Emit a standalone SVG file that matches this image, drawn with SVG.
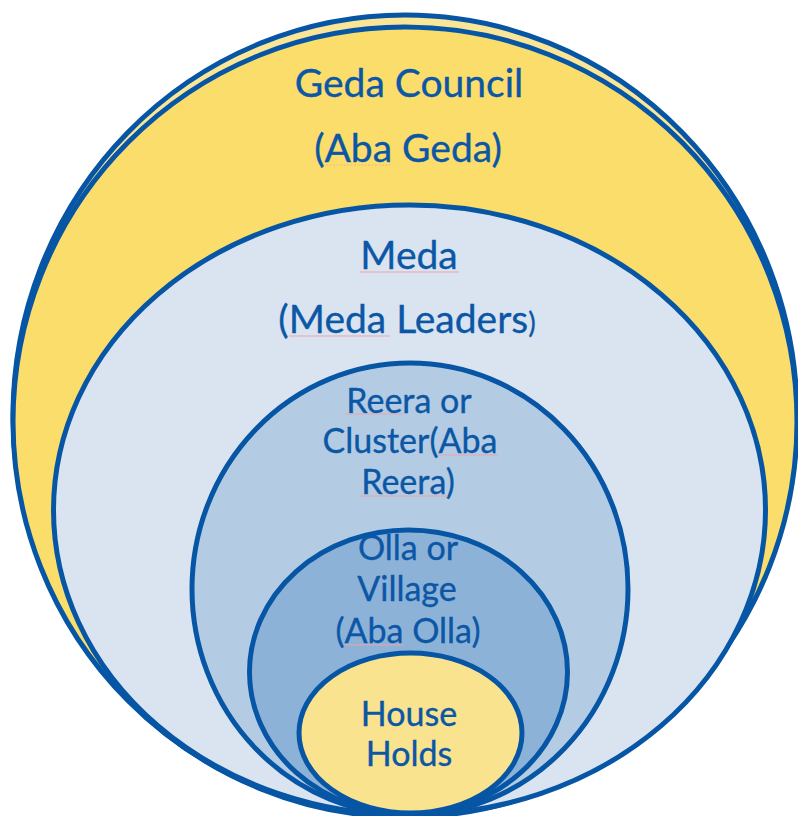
<svg xmlns="http://www.w3.org/2000/svg" width="798" height="816" viewBox="0 0 798 816">
  <style>
    .ring { stroke: #0656A5; stroke-width: 5; }
    .lbl { font-family: Lato, "Open Sans", "Liberation Sans", sans-serif; fill: #0B57A6; text-anchor: middle; stroke: #0B57A6; stroke-width: 0.35; }
    .big { font-size: 39px; }
    .small { font-size: 34px; }
    .spell { stroke: #E9A3AC; stroke-width: 1.2; fill: none; }
  </style>
  <rect width="798" height="816" fill="#ffffff"/>

  <!-- outermost tier: council -->
  <g id="geda-council">
    <ellipse class="ring" cx="405" cy="416" rx="392" ry="401" fill="#FBE596"/>
    <ellipse class="ring" cx="405" cy="421.5" rx="392" ry="394.5" fill="#FADD6B"/>
    <text class="lbl big" x="409" y="97">Geda Council</text>
    <text class="lbl big" x="408" y="162">(Aba Geda)</text>
    <line x1="326" y1="165" x2="393" y2="165" stroke="#E9B98A" stroke-width="1.2" stroke-dasharray="2 1.5"/>
  </g>

  <!-- second tier -->
  <g id="meda">
    <ellipse class="ring" cx="409.5" cy="510" rx="356" ry="305" fill="#DAE4F0"/>
    <text class="lbl big" x="409" y="269">Meda</text>
    <text class="lbl big" x="407" y="333">(Meda Leaders<tspan font-size="28px">)</tspan></text>
    <line class="spell" x1="360" y1="272" x2="459" y2="272"/>
    <line class="spell" x1="289" y1="336" x2="390" y2="336"/>
  </g>

  <!-- third tier -->
  <g id="reera">
    <ellipse class="ring" cx="410" cy="589" rx="218" ry="226" fill="#B3CCE3"/>
    <text class="lbl small" x="409" y="413">Reera or</text>
    <text class="lbl small" x="410" y="453">Cluster(Aba</text>
    <text class="lbl small" x="408" y="494">Reera)</text>
    <line class="spell" x1="345" y1="414" x2="403" y2="414"/>
    <line class="spell" x1="438" y1="455" x2="498" y2="455"/>
    <line class="spell" x1="360" y1="496" x2="448" y2="496"/>
  </g>

  <!-- fourth tier -->
  <g id="olla">
    <ellipse class="ring" cx="408.5" cy="672" rx="159" ry="142" fill="#8DB2D8"/>
    <text class="lbl small" x="408" y="560">Olla or</text>
    <text class="lbl small" x="407" y="601">Village</text>
    <text class="lbl small" x="408" y="643">(Aba Olla)</text>
    <line class="spell" x1="344" y1="645" x2="404" y2="645"/>
  </g>

  <!-- innermost tier -->
  <g id="households">
    <ellipse class="ring" cx="410.5" cy="733" rx="111.5" ry="80" fill="#F9E38F"/>
    <text class="lbl small" x="409" y="726">House</text>
    <text class="lbl small" x="409" y="766">Holds</text>
  </g>
</svg>
